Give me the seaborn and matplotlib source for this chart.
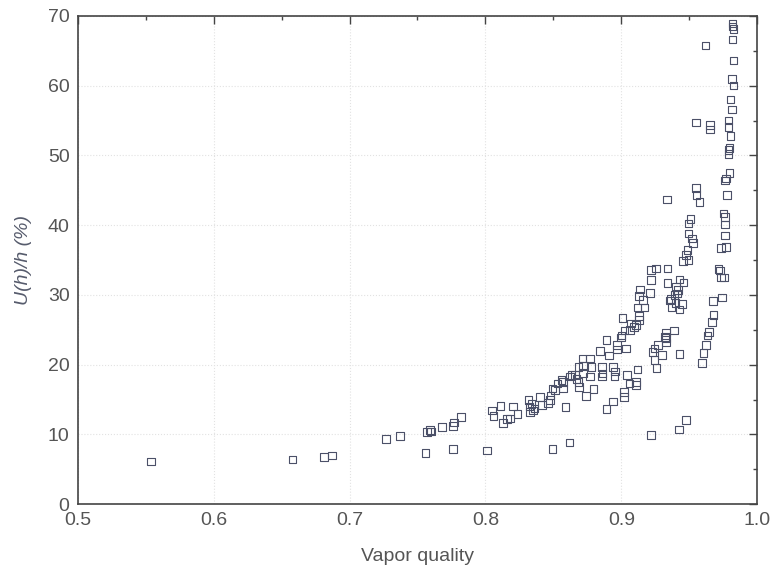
import numpy as np
import pandas as pd
import matplotlib
matplotlib.use("Agg")
import matplotlib.pyplot as plt
from matplotlib.ticker import MultipleLocator
import seaborn as sns

# ── Data (vapor quality vs relative uncertainty) ──
quality = [
    0.554, 0.658, 0.681, 0.687, 0.727, 0.737, 0.756, 0.757, 0.759, 0.760,
    0.768, 0.776, 0.776, 0.777, 0.782, 0.801, 0.805, 0.806, 0.811, 0.813,
    0.816, 0.818, 0.8205, 0.8235, 0.8316, 0.8324, 0.834, 0.833, 0.835, 0.836,
    0.840, 0.8415, 0.846, 0.848, 0.8476, 0.8495, 0.8495, 0.853, 0.851, 0.857,
    0.857, 0.856, 0.859, 0.862, 0.8623, 0.8635, 0.866, 0.867, 0.8685, 0.869,
    0.8685, 0.8716, 0.872, 0.874, 0.872, 0.877, 0.877, 0.878, 0.8795, 0.8844,
    0.8856, 0.886, 0.8863, 0.889, 0.889, 0.891, 0.894, 0.894, 0.895, 0.8955,
    0.897, 0.897, 0.8996, 0.9002, 0.9008, 0.9023, 0.902, 0.902, 0.9035, 0.904,
    0.9065, 0.906, 0.907, 0.9094, 0.911, 0.911, 0.911, 0.912, 0.913, 0.913,
    0.912, 0.917, 0.916, 0.913, 0.914, 0.9212, 0.9217, 0.9217, 0.9256, 0.934,
    0.934, 0.9217, 0.923, 0.9245, 0.927, 0.9244, 0.926, 0.930, 0.933, 0.9323,
    0.933, 0.933, 0.939, 0.9335, 0.937, 0.936, 0.9364, 0.940, 0.9426, 0.9428,
    0.943, 0.9445, 0.941, 0.9393, 0.9416, 0.9405, 0.943, 0.9457, 0.9453, 0.9475,
    0.9477, 0.9487, 0.9494, 0.9494, 0.952, 0.9526, 0.9494, 0.951, 0.955, 0.9555,
    0.9575, 0.9548, 0.9593, 0.9605, 0.9624, 0.962, 0.9634, 0.9648, 0.9654, 0.9654,
    0.9666, 0.9678, 0.9673, 0.9715, 0.9727, 0.9735, 0.9757, 0.974, 0.9732, 0.977,
    0.9764, 0.9764, 0.9764, 0.9752, 0.978, 0.9764, 0.977, 0.9796, 0.9788, 0.9788,
    0.9796, 0.9805, 0.979, 0.9788, 0.9813, 0.9805, 0.9826, 0.9813, 0.9826, 0.982,
    0.9826, 0.982, 0.982,
]
uncertainty = [
    6.1, 6.4, 6.8, 7.0, 9.3, 9.8, 7.3, 10.3, 10.6, 10.4,
    11.1, 7.9, 11.2, 11.7, 12.5, 7.7, 13.4, 12.6, 14.1, 11.6,
    12.2, 12.3, 14.0, 12.9, 14.9, 14.0, 14.35, 13.2, 13.4, 13.7,
    15.4, 14.2, 14.5, 15.6, 14.9, 7.9, 16.6, 17.3, 16.4, 16.6,
    17.5, 17.8, 13.9, 8.85, 18.3, 18.5, 18.5, 17.9, 19.7, 16.8,
    17.5, 20.9, 19.9, 15.5, 18.75, 20.9, 18.3, 19.7, 16.5, 22.0,
    19.7, 18.3, 18.75, 23.5, 13.6, 21.3, 19.7, 14.7, 18.3, 19.0,
    22.2, 22.8, 23.9, 24.2, 26.7, 24.9, 15.4, 16.1, 22.3, 18.5,
    25.0, 17.3, 25.9, 25.4, 25.7, 17.5, 17.1, 19.3, 26.4, 27.0,
    28.2, 28.2, 29.3, 29.8, 30.8, 30.3, 32.1, 33.6, 33.8, 33.8,
    31.7, 9.95, 21.85, 22.3, 22.8, 20.7, 19.5, 21.4, 23.15, 24.0,
    23.8, 24.6, 24.9, 43.7, 28.3, 29.2, 29.4, 28.8, 10.7, 21.5,
    27.9, 28.7, 30.2, 30.0, 30.7, 31.1, 32.2, 31.8, 34.9, 12.1,
    35.7, 36.4, 35.0, 38.8, 38.1, 37.4, 40.25, 40.9, 45.3, 44.3,
    43.3, 54.7, 20.2, 21.7, 22.8, 65.75, 24.2, 24.7, 54.4, 53.7,
    26.1, 27.1, 29.1, 33.7, 33.5, 32.5, 32.5, 29.65, 36.7, 36.9,
    38.5, 40.1, 41.2, 41.7, 44.3, 46.4, 46.7, 47.5, 50.2, 50.8,
    51.1, 52.8, 54.1, 55.0, 56.6, 58.0, 60.0, 61.0, 63.6, 66.6,
    68.1, 68.5, 68.9,
]

df = pd.DataFrame({"quality": quality, "uncertainty": uncertainty})

TEXT = "#555555"
AXIS = "#444444"
MARK = "#4b5068"

sns.set_style("white")
plt.rcParams["font.family"] = ["Liberation Sans", "DejaVu Sans"]

fig = plt.figure(figsize=(7.71, 5.69), dpi=100)
ax = fig.add_axes([0.101, 0.114, 0.881, 0.858])

sns.scatterplot(
    data=df, x="quality", y="uncertainty", ax=ax,
    marker="s", s=30, facecolor="none", edgecolor=MARK, linewidth=0.8,
)

ax.set_xlim(0.5, 1.0)
ax.set_ylim(0, 70)
ax.xaxis.set_major_locator(MultipleLocator(0.1))
ax.xaxis.set_minor_locator(MultipleLocator(0.05))
ax.yaxis.set_major_locator(MultipleLocator(10))
ax.yaxis.set_minor_locator(MultipleLocator(5))
ax.set_xticks(np.arange(0.5, 1.01, 0.1))
ax.set_xticklabels(["0.5", "0.6", "0.7", "0.8", "0.9", "1.0"])

ax.grid(True, which="major", color="#e2e2e2", linestyle=":", linewidth=0.8)
ax.set_axisbelow(True)

ax.tick_params(which="both", direction="in", top=True, right=True,
               color=AXIS, labelcolor=TEXT, labelsize=14)
ax.tick_params(which="major", length=6, width=1.0, pad=6)
ax.tick_params(which="minor", length=3, width=1.0)
for sp in ax.spines.values():
    sp.set_color(AXIS)
    sp.set_linewidth(1.2)

ax.set_xlabel("Vapor quality", fontsize=14, color=TEXT, labelpad=13)
ax.set_ylabel("U(h)/h (%)", fontsize=14, color="#565b6c", style="italic", labelpad=11)

fig.savefig("out.png", dpi=100)
